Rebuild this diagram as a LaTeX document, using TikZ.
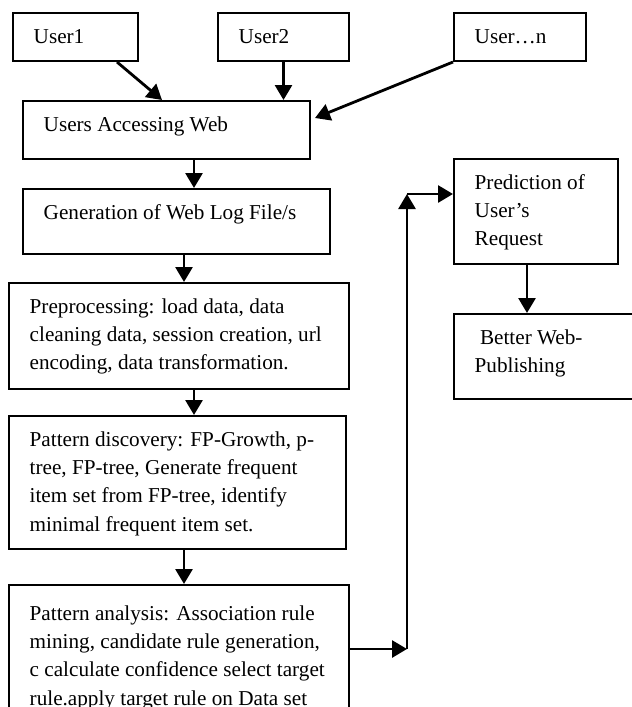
\documentclass[tikz,border=0pt]{standalone}
\usepackage{fontspec}
\setmainfont{Liberation Serif}
\usetikzlibrary{arrows.meta,calc}

\begin{document}
\begin{tikzpicture}[x=1pt,y=-1pt,
	stage/.style={draw, line width=2pt, anchor=north west, inner sep=0pt},
	words/.style={anchor=north west, align=left, inner sep=0pt, xshift=21.5pt, yshift=-11.2pt, font=\fontsize{21.2}{28.3}\selectfont},
	flow/.style={line width=2.8pt, -{Triangle[length=15pt,width=17pt]}}]
				\useasboundingbox (0,0) rectangle (632,707);
				\clip (0,0) rectangle (632,707);
				% users
				\node [stage, minimum width=125pt, minimum height=48pt] (user1) at (12,12) {};
				\node [stage, minimum width=131pt, minimum height=48pt] (user2) at (217,12) {};
				\node [stage, minimum width=132pt, minimum height=48pt] (usern) at (453,12) {};
				\node [words] (user1-t) at (user1.north west) {\strut User1};
				\node [words] (user2-t) at (user2.north west) {\strut User2};
				\node [words] (usern-t) at (usern.north west) {\strut User…n};
				% main chain
				\node [stage, minimum width=287pt, minimum height=58pt] (uaw) at (22,100) {};
				\node [stage, minimum width=307pt, minimum height=65pt] (gen) at (22,188) {};
				\node [stage, minimum width=340pt, minimum height=106pt] (pre) at (8,282) {};
				\node [stage, minimum width=337pt, minimum height=133pt] (pd) at (8,415) {};
				\node [stage, minimum width=340pt, minimum height=146pt] (pa) at (8,584) {};
				\node [words] (uaw-t) at (uaw.north west) {\strut Users Accessing Web};
				\node [words] (gen-t) at (gen.north west) {\strut Generation of Web Log File/s};
				\node [words] (pre-t) at (pre.north west) {\strut Preprocessing: load data, data\\cleaning data, session creation, url\\encoding, data transformation.};
				\node [words] (pd-t) at (pd.north west) {\strut Pattern discovery: FP-Growth, p-\\tree, FP-tree, Generate frequent\\item set from FP-tree, identify\\minimal frequent item set.};
				\node [words, yshift=-5pt] (pa-t) at (pa.north west) {\strut Pattern analysis: Association rule\\mining, candidate rule generation,\\c calculate confidence select target\\rule.apply target rule on Data set};
				% right side
				\node [stage, minimum width=164pt, minimum height=105pt] (pred) at (453,158) {};
				\node [stage, minimum width=207pt, minimum height=85pt] (better) at (453,313) {};
				\node [words] (pred-t) at (pred.north west) {\strut Prediction of\\User’s\\Request};
				\node [words] (better-t) at (better.north west) {\strut\hspace{0.25em}Better Web-\\Publishing};
				\coordinate (turn) at (407,649);
				\coordinate (rise) at (407,194);
				% connectors
				\draw [flow] ([xshift=-22pt]user1.south east) -- ([xshift=140pt]uaw.north west);
				\draw [flow] (user2.south) -- (user2.south |- uaw.north);
				\draw [flow] (usern.south west) -- ([xshift=4pt,yshift=12pt]uaw.east);
				\draw [flow] ([xshift=27.5pt]uaw.south) -- ([xshift=27.5pt]uaw.south |- gen.north);
				\draw [flow] ([xshift=7.5pt]gen.south) -- ([xshift=7.5pt]gen.south |- pre.north);
				\draw [flow] ([xshift=15pt]pre.south) -- ([xshift=15pt]pre.south |- pd.north);
				\draw [flow] ([xshift=6.5pt]pd.south) -- ([xshift=6.5pt]pd.south |- pa.north);
				\draw [flow] (pa.east |- turn) -- (turn);
				\draw [flow] (turn) -- (rise);
				\draw [flow] (rise) -- (rise -| pred.west);
				\draw [flow] ([xshift=-9pt]pred.south) -- ([xshift=-9pt]pred.south |- better.north);
			\end{tikzpicture}
\end{document}
